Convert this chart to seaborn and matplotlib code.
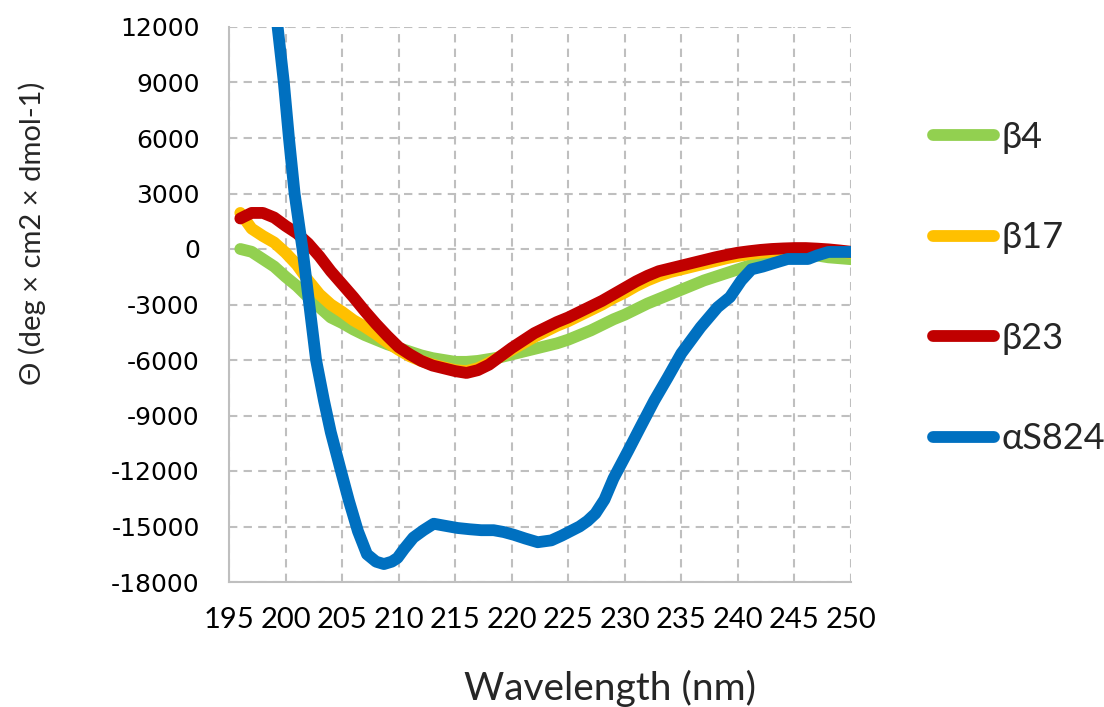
import numpy as np
import pandas as pd
import matplotlib
matplotlib.use("Agg")
import matplotlib.pyplot as plt
import seaborn as sns

# ---------------- data ----------------
beta_x = list(range(196, 251))
beta4 = [0, -150, -550, -950, -1500, -2000, -2600, -3150, -3700, -4000,
         -4350, -4650, -4900, -5150, -5350, -5550, -5750, -5900, -6000, -6100,
         -6100, -6050, -5950, -5850, -5700, -5550, -5400, -5250, -5100, -4900,
         -4650, -4400, -4100, -3800, -3550, -3250, -2950, -2700, -2450, -2200,
         -1950, -1700, -1500, -1300, -1100, -900, -700, -500, -350, -300,
         -300, -350, -450, -500, -550]
beta17 = [1950, 1100, 700, 350, -200, -850, -1700, -2450, -3000, -3400,
          -3850, -4200, -4600, -5050, -5450, -5800, -6050, -6250, -6400, -6550,
          -6600, -6450, -6150, -5800, -5450, -5100, -4750, -4450, -4150, -3900,
          -3600, -3300, -3000, -2650, -2350, -2000, -1700, -1450, -1250, -1100,
          -950, -800, -650, -500, -380, -280, -200, -130, -80, -50,
          -50, -80, -100, -150, -200]
beta23 = [1650, 1950, 1950, 1700, 1250, 850, 300, -400, -1200, -1900,
          -2600, -3350, -4050, -4700, -5300, -5700, -6050, -6300, -6450, -6600,
          -6700, -6550, -6250, -5800, -5350, -4950, -4550, -4250, -3950, -3700,
          -3400, -3100, -2800, -2450, -2100, -1750, -1450, -1200, -1050, -900,
          -750, -600, -450, -320, -200, -120, -50, 0, 30, 50,
          50, 20, -20, -80, -150]
as824_x = [198.9, 199.3, 199.85, 200.3, 200.8, 201.5, 202.1, 202.7, 203.4, 204.0,
           204.9, 205.6, 206.4, 207.2, 208.0, 208.7, 209.4, 209.9, 210.5, 211.3,
           212.2, 213.1, 214.0, 215.2, 216.3, 217.3, 218.4, 219.3, 220.2, 221.2,
           222.3, 223.5, 224.4, 225.2, 226.0, 226.7, 227.4, 228.2, 229.0, 230.3,
           231.4, 232.6, 233.8, 235.0, 236.7, 238.2, 239.3, 240.3, 241.2, 242.2,
           243.2, 244.4, 245.3, 246.2, 247.0, 248.0, 249.0, 250.0]
as824 = [14000, 12000, 9000, 6000, 3000, 0, -3000, -6000, -8200, -9900,
         -12000, -13600, -15250, -16500, -16900, -17030, -16900, -16700, -16200, -15600,
         -15200, -14850, -14950, -15080, -15150, -15200, -15200, -15300, -15450, -15650,
         -15850, -15750, -15500, -15250, -15000, -14700, -14300, -13550, -12400, -10900,
         -9600, -8200, -6940, -5640, -4230, -3150, -2600, -1700, -1100, -950,
         -760, -540, -540, -540, -350, -160, -160, -160]

series_names = ["β4", "β17", "β23", "αS824"]
series_colors = ["#92D050", "#FFC000", "#C00000", "#0070C0"]
x_ticks = list(range(195, 251, 5))
y_ticks = list(range(-18000, 12001, 3000))

# ---------------- build long table ----------------
frames = []
for name, xs, ys in [("β4", beta_x, beta4), ("β17", beta_x, beta17),
                     ("β23", beta_x, beta23), ("αS824", as824_x, as824)]:
    frames.append(pd.DataFrame({"Wavelength": xs, "Theta": ys, "Series": name}))
df = pd.concat(frames, ignore_index=True)

sns.set_style("white")
plt.rcParams["font.family"] = ["DejaVu Sans"]

fig = plt.figure(figsize=(11.04, 7.07), dpi=100)
ax = fig.add_axes([229 / 1104, 1 - 582 / 707, (851 - 229) / 1104, (582 - 27) / 707])

sns.lineplot(data=df, x="Wavelength", y="Theta", hue="Series",
             hue_order=series_names, palette=series_colors,
             linewidth=8.5, ax=ax, legend=True, estimator=None, sort=True)
for ln in ax.get_lines():
    ln.set_solid_capstyle("round")
    ln.set_solid_joinstyle("round")

ax.set_xlim(195, 250)
ax.set_ylim(-18000, 12000)
ax.set_xticks(x_ticks)
ax.set_yticks(y_ticks)
ax.set_xticklabels([str(v) for v in x_ticks], fontsize=21, family=["Lato", "DejaVu Sans"])
ax.set_yticklabels([str(v) for v in y_ticks], fontsize=18)

grid_col = "#BFBFBF"
ax.grid(True, color=grid_col, linestyle=(0, (4, 3)), linewidth=1.5)
ax.set_axisbelow(True)
for s in ["top", "right"]:
    ax.spines[s].set_visible(False)
for s in ["left", "bottom"]:
    ax.spines[s].set_color(grid_col)
    ax.spines[s].set_linewidth(1.5)
ax.tick_params(axis="both", which="major", direction="out", length=7,
               width=1.2, color=grid_col, labelcolor="black")
ax.tick_params(axis="y", pad=14)
ax.tick_params(axis="x", pad=11)

ax.set_xlabel("")
ax.set_ylabel("")
fig.text(610 / 1104, 1 - 688 / 707, "Wavelength (nm)", family=["Lato", "DejaVu Sans"],
         fontsize=28, ha="center", va="center")
fig.text(32 / 1104, 1 - 233 / 707, "Θ (deg × cm2 × dmol-1)", family=["Lato", "DejaVu Sans"],
         fontsize=21, ha="center", va="center", rotation=90)

handles, labels = ax.get_legend_handles_labels()
leg = ax.legend(handles, labels, loc="center left",
                bbox_to_anchor=(933 / 1104, 1 - 288 / 707),
                bbox_transform=fig.transFigure, frameon=False,
                prop={"family": ["Lato", "DejaVu Sans"], "size": 26},
                handlelength=1.7, handletextpad=0.2, labelspacing=1.87,
                borderpad=0, borderaxespad=0)
for h in leg.get_lines():
    h.set_linewidth(8.5)
    h.set_solid_capstyle("round")

fig.savefig("out.png", dpi=100)
